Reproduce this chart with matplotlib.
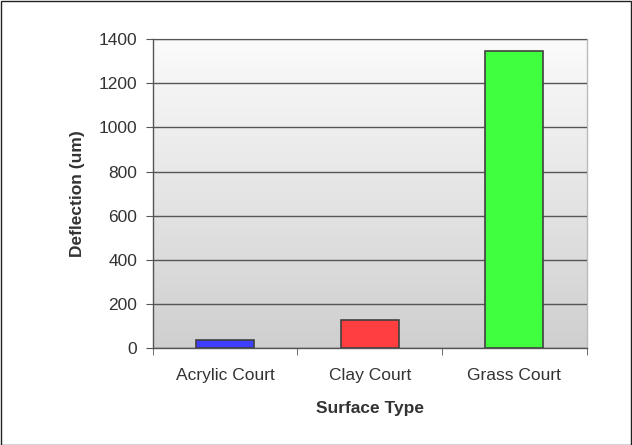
import matplotlib
matplotlib.use("Agg")
from matplotlib import pyplot as plt
import numpy as np

# Data
categories = ["Acrylic Court", "Clay Court", "Grass Court"]
deflection = [37, 128, 1344]
bar_colors = ["#3f3fff", "#ff3f3f", "#3fff3f"]
y_ticks = [0, 200, 400, 600, 800, 1000, 1200, 1400]

plt.rcParams['font.family'] = ['Liberation Sans', 'DejaVu Sans']

fig = plt.figure(figsize=(6.32, 4.45), dpi=100)
ax = fig.add_axes([0.2416, 0.2173, 0.6867, 0.6951])

# Gradient plot-area background (light at top, grey at bottom)
grad = np.linspace(0, 1, 256).reshape(-1, 1)
cmap = matplotlib.colors.LinearSegmentedColormap.from_list("g", ["#fbfbfb", "#cfcfcf"])
ax.imshow(grad, cmap=cmap, extent=[-0.5, 2.5, 0, 1400], origin='upper', aspect='auto', zorder=0)

x = np.arange(len(categories))
ax.bar(x, deflection, width=0.4, color=bar_colors, edgecolor="#404040", linewidth=1.2, zorder=3)

ax.set_xlim(-0.5, 2.5)
ax.set_ylim(0, 1400)
ax.set_yticks(y_ticks)
ax.yaxis.grid(True, color="#555555", linewidth=1, zorder=1)
ax.set_axisbelow(False)

ax.set_xticks(x)
ax.set_xticklabels(categories, fontsize=12.5, color="#333333")
ax.set_xticks([-0.5, 0.5, 1.5, 2.5], minor=True)
ax.tick_params(axis='x', which='major', length=0, pad=14)
ax.tick_params(axis='x', which='minor', length=5, color="#555555", direction='out')
ax.tick_params(axis='y', length=5, color="#555555", labelsize=12.5, labelcolor="#333333", pad=6)

for side in ["left", "bottom"]:
    ax.spines[side].set_color("#555555")
    ax.spines[side].set_linewidth(1)
for side in ["top", "right"]:
    ax.spines[side].set_color("#bbbbbb")
    ax.spines[side].set_linewidth(1)

ax.set_xlabel("Surface Type", fontsize=12.5, fontweight='bold', color="#333333", va='center')
ax.set_ylabel("Deflection (um)", fontsize=12.5, fontweight='bold', color="#333333", va='center')
ax.xaxis.set_label_coords(0.5, -0.196)
ax.yaxis.set_label_coords(-0.174, 0.5)

# Outer border
fig.patches.append(plt.Rectangle((0.001, 0.001), 0.997, 0.997, transform=fig.transFigure,
                                 fill=False, edgecolor="#222222", linewidth=1))

fig.savefig("out.png", dpi=100)
